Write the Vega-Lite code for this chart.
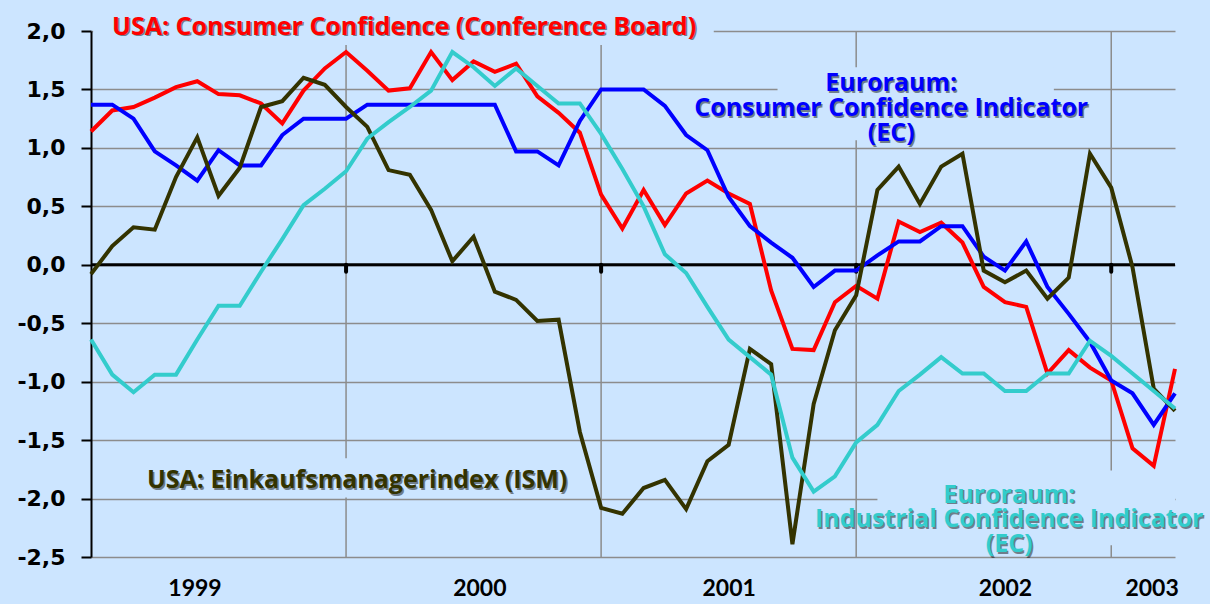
{
  "$schema": "https://vega.github.io/schema/vega-lite/v6.json",
  "width": 1084,
  "height": 526,
  "autosize": {"type": "none"},
  "padding": {"left": 91, "top": 31, "right": 35, "bottom": 47},
  "background": "#cce5ff",
  "config": {
    "view": {"stroke": null},
    "axis": {"labelColor": "#000000"}
  },
  "datasets": {
    "series": [
      {"m":0,"s":"USA CC","v":1.14},{"m":1,"s":"USA CC","v":1.32},{"m":2,"s":"USA CC","v":1.35},{"m":3,"s":"USA CC","v":1.43},{"m":4,"s":"USA CC","v":1.52},{"m":5,"s":"USA CC","v":1.57},{"m":6,"s":"USA CC","v":1.46},{"m":7,"s":"USA CC","v":1.45},{"m":8,"s":"USA CC","v":1.38},{"m":9,"s":"USA CC","v":1.21},{"m":10,"s":"USA CC","v":1.49},{"m":11,"s":"USA CC","v":1.68},{"m":12,"s":"USA CC","v":1.82},{"m":13,"s":"USA CC","v":1.66},{"m":14,"s":"USA CC","v":1.49},{"m":15,"s":"USA CC","v":1.51},{"m":16,"s":"USA CC","v":1.82},{"m":17,"s":"USA CC","v":1.58},{"m":18,"s":"USA CC","v":1.74},{"m":19,"s":"USA CC","v":1.65},{"m":20,"s":"USA CC","v":1.72},{"m":21,"s":"USA CC","v":1.44},{"m":22,"s":"USA CC","v":1.3},{"m":23,"s":"USA CC","v":1.13},{"m":24,"s":"USA CC","v":0.6},{"m":25,"s":"USA CC","v":0.31},{"m":26,"s":"USA CC","v":0.64},{"m":27,"s":"USA CC","v":0.34},{"m":28,"s":"USA CC","v":0.61},{"m":29,"s":"USA CC","v":0.72},{"m":30,"s":"USA CC","v":0.61},{"m":31,"s":"USA CC","v":0.52},{"m":32,"s":"USA CC","v":-0.22},{"m":33,"s":"USA CC","v":-0.72},{"m":34,"s":"USA CC","v":-0.73},{"m":35,"s":"USA CC","v":-0.32},{"m":36,"s":"USA CC","v":-0.18},{"m":37,"s":"USA CC","v":-0.29},{"m":38,"s":"USA CC","v":0.37},{"m":39,"s":"USA CC","v":0.28},{"m":40,"s":"USA CC","v":0.36},{"m":41,"s":"USA CC","v":0.19},{"m":42,"s":"USA CC","v":-0.19},{"m":43,"s":"USA CC","v":-0.32},{"m":44,"s":"USA CC","v":-0.36},{"m":45,"s":"USA CC","v":-0.93},{"m":46,"s":"USA CC","v":-0.73},{"m":47,"s":"USA CC","v":-0.88},{"m":48,"s":"USA CC","v":-0.99},{"m":49,"s":"USA CC","v":-1.57},{"m":50,"s":"USA CC","v":-1.72},{"m":51,"s":"USA CC","v":-0.89},
      {"m":0,"s":"EA CCI","v":1.37},{"m":1,"s":"EA CCI","v":1.37},{"m":2,"s":"EA CCI","v":1.25},{"m":3,"s":"EA CCI","v":0.97},{"m":4,"s":"EA CCI","v":0.85},{"m":5,"s":"EA CCI","v":0.72},{"m":6,"s":"EA CCI","v":0.98},{"m":7,"s":"EA CCI","v":0.85},{"m":8,"s":"EA CCI","v":0.85},{"m":9,"s":"EA CCI","v":1.11},{"m":10,"s":"EA CCI","v":1.25},{"m":11,"s":"EA CCI","v":1.25},{"m":12,"s":"EA CCI","v":1.25},{"m":13,"s":"EA CCI","v":1.37},{"m":14,"s":"EA CCI","v":1.37},{"m":15,"s":"EA CCI","v":1.37},{"m":16,"s":"EA CCI","v":1.37},{"m":17,"s":"EA CCI","v":1.37},{"m":18,"s":"EA CCI","v":1.37},{"m":19,"s":"EA CCI","v":1.37},{"m":20,"s":"EA CCI","v":0.97},{"m":21,"s":"EA CCI","v":0.97},{"m":22,"s":"EA CCI","v":0.85},{"m":23,"s":"EA CCI","v":1.23},{"m":24,"s":"EA CCI","v":1.5},{"m":25,"s":"EA CCI","v":1.5},{"m":26,"s":"EA CCI","v":1.5},{"m":27,"s":"EA CCI","v":1.36},{"m":28,"s":"EA CCI","v":1.11},{"m":29,"s":"EA CCI","v":0.98},{"m":30,"s":"EA CCI","v":0.58},{"m":31,"s":"EA CCI","v":0.33},{"m":32,"s":"EA CCI","v":0.19},{"m":33,"s":"EA CCI","v":0.06},{"m":34,"s":"EA CCI","v":-0.19},{"m":35,"s":"EA CCI","v":-0.05},{"m":36,"s":"EA CCI","v":-0.05},{"m":37,"s":"EA CCI","v":0.08},{"m":38,"s":"EA CCI","v":0.2},{"m":39,"s":"EA CCI","v":0.2},{"m":40,"s":"EA CCI","v":0.33},{"m":41,"s":"EA CCI","v":0.33},{"m":42,"s":"EA CCI","v":0.07},{"m":43,"s":"EA CCI","v":-0.05},{"m":44,"s":"EA CCI","v":0.2},{"m":45,"s":"EA CCI","v":-0.19},{"m":46,"s":"EA CCI","v":-0.42},{"m":47,"s":"EA CCI","v":-0.66},{"m":48,"s":"EA CCI","v":-0.99},{"m":49,"s":"EA CCI","v":-1.1},{"m":50,"s":"EA CCI","v":-1.37},{"m":51,"s":"EA CCI","v":-1.1},
      {"m":0,"s":"USA ISM","v":-0.08},{"m":1,"s":"USA ISM","v":0.16},{"m":2,"s":"USA ISM","v":0.32},{"m":3,"s":"USA ISM","v":0.3},{"m":4,"s":"USA ISM","v":0.75},{"m":5,"s":"USA ISM","v":1.09},{"m":6,"s":"USA ISM","v":0.59},{"m":7,"s":"USA ISM","v":0.83},{"m":8,"s":"USA ISM","v":1.35},{"m":9,"s":"USA ISM","v":1.4},{"m":10,"s":"USA ISM","v":1.6},{"m":11,"s":"USA ISM","v":1.54},{"m":12,"s":"USA ISM","v":1.35},{"m":13,"s":"USA ISM","v":1.18},{"m":14,"s":"USA ISM","v":0.81},{"m":15,"s":"USA ISM","v":0.77},{"m":16,"s":"USA ISM","v":0.47},{"m":17,"s":"USA ISM","v":0.03},{"m":18,"s":"USA ISM","v":0.24},{"m":19,"s":"USA ISM","v":-0.23},{"m":20,"s":"USA ISM","v":-0.3},{"m":21,"s":"USA ISM","v":-0.48},{"m":22,"s":"USA ISM","v":-0.47},{"m":23,"s":"USA ISM","v":-1.43},{"m":24,"s":"USA ISM","v":-2.08},{"m":25,"s":"USA ISM","v":-2.13},{"m":26,"s":"USA ISM","v":-1.91},{"m":27,"s":"USA ISM","v":-1.84},{"m":28,"s":"USA ISM","v":-2.09},{"m":29,"s":"USA ISM","v":-1.68},{"m":30,"s":"USA ISM","v":-1.54},{"m":31,"s":"USA ISM","v":-0.72},{"m":32,"s":"USA ISM","v":-0.85},{"m":33,"s":"USA ISM","v":-2.39},{"m":34,"s":"USA ISM","v":-1.19},{"m":35,"s":"USA ISM","v":-0.56},{"m":36,"s":"USA ISM","v":-0.26},{"m":37,"s":"USA ISM","v":0.64},{"m":38,"s":"USA ISM","v":0.84},{"m":39,"s":"USA ISM","v":0.52},{"m":40,"s":"USA ISM","v":0.84},{"m":41,"s":"USA ISM","v":0.95},{"m":42,"s":"USA ISM","v":-0.05},{"m":43,"s":"USA ISM","v":-0.15},{"m":44,"s":"USA ISM","v":-0.05},{"m":45,"s":"USA ISM","v":-0.29},{"m":46,"s":"USA ISM","v":-0.11},{"m":47,"s":"USA ISM","v":0.95},{"m":48,"s":"USA ISM","v":0.66},{"m":49,"s":"USA ISM","v":-0.02},{"m":50,"s":"USA ISM","v":-1.06},{"m":51,"s":"USA ISM","v":-1.25},
      {"m":0,"s":"EA ICI","v":-0.64},{"m":1,"s":"EA ICI","v":-0.94},{"m":2,"s":"EA ICI","v":-1.09},{"m":3,"s":"EA ICI","v":-0.94},{"m":4,"s":"EA ICI","v":-0.94},{"m":5,"s":"EA ICI","v":-0.64},{"m":6,"s":"EA ICI","v":-0.35},{"m":7,"s":"EA ICI","v":-0.35},{"m":8,"s":"EA ICI","v":-0.06},{"m":9,"s":"EA ICI","v":0.22},{"m":10,"s":"EA ICI","v":0.51},{"m":11,"s":"EA ICI","v":0.65},{"m":12,"s":"EA ICI","v":0.8},{"m":13,"s":"EA ICI","v":1.08},{"m":14,"s":"EA ICI","v":1.22},{"m":15,"s":"EA ICI","v":1.35},{"m":16,"s":"EA ICI","v":1.49},{"m":17,"s":"EA ICI","v":1.82},{"m":18,"s":"EA ICI","v":1.69},{"m":19,"s":"EA ICI","v":1.53},{"m":20,"s":"EA ICI","v":1.68},{"m":21,"s":"EA ICI","v":1.53},{"m":22,"s":"EA ICI","v":1.38},{"m":23,"s":"EA ICI","v":1.38},{"m":24,"s":"EA ICI","v":1.12},{"m":25,"s":"EA ICI","v":0.82},{"m":26,"s":"EA ICI","v":0.5},{"m":27,"s":"EA ICI","v":0.09},{"m":28,"s":"EA ICI","v":-0.07},{"m":29,"s":"EA ICI","v":-0.36},{"m":30,"s":"EA ICI","v":-0.64},{"m":31,"s":"EA ICI","v":-0.79},{"m":32,"s":"EA ICI","v":-0.94},{"m":33,"s":"EA ICI","v":-1.65},{"m":34,"s":"EA ICI","v":-1.94},{"m":35,"s":"EA ICI","v":-1.81},{"m":36,"s":"EA ICI","v":-1.52},{"m":37,"s":"EA ICI","v":-1.37},{"m":38,"s":"EA ICI","v":-1.08},{"m":39,"s":"EA ICI","v":-0.94},{"m":40,"s":"EA ICI","v":-0.79},{"m":41,"s":"EA ICI","v":-0.93},{"m":42,"s":"EA ICI","v":-0.93},{"m":43,"s":"EA ICI","v":-1.08},{"m":44,"s":"EA ICI","v":-1.08},{"m":45,"s":"EA ICI","v":-0.93},{"m":46,"s":"EA ICI","v":-0.93},{"m":47,"s":"EA ICI","v":-0.65},{"m":48,"s":"EA ICI","v":-0.78},{"m":49,"s":"EA ICI","v":-0.93},{"m":50,"s":"EA ICI","v":-1.08},{"m":51,"s":"EA ICI","v":-1.23}
    ],
    "years": [{"m":12},{"m":24},{"m":36},{"m":48}],
    "masks": [
      {"m1":0.1,"m2":29.3,"v1":1.88,"v2":2.12},
      {"m1":32.3,"m2":45.3,"v1":1.47,"v2":1.69},
      {"m1":28.3,"m2":47.3,"v1":1.065,"v2":1.47},
      {"m1":2.3,"m2":22.8,"v1":-1.99,"v2":-1.655},
      {"m1":37.0,"m2":51,"v1":-2.4,"v2":-1.76}
    ],
    "labels": [
      {"text":"USA: Consumer Confidence (Conference Board)","s":"USA CC","m":14.73,"v":1.97},
      {"text":"Euroraum:","s":"EA CCI","m":37.65,"v":1.484},
      {"text":"Consumer Confidence Indicator","s":"EA CCI","m":37.65,"v":1.27},
      {"text":"(EC)","s":"EA CCI","m":37.65,"v":1.056},
      {"text":"USA: Einkaufsmanagerindex (ISM)","s":"USA ISM","m":12.52,"v":-1.912},
      {"text":"Euroraum:","s":"EA ICI","m":43.2,"v":-2.038},
      {"text":"Industrial Confidence Indicator","s":"EA ICI","m":43.2,"v":-2.245},
      {"text":"(EC)","s":"EA ICI","m":43.2,"v":-2.459}
    ]
  },
  "layer": [
    {
      "data": {"name": "years"},
      "mark": {"type": "rule", "color": "#8c8c8c", "strokeWidth": 1.5},
      "encoding": {
        "x": {"field": "m", "type": "quantitative", "scale": {"domain": [0, 51], "nice": false, "zero": false},
          "axis": {"values": [4.87, 18.27, 30, 43, 49.9], "labelExpr": "datum.value < 10 ? '1999' : datum.value < 24 ? '2000' : datum.value < 36 ? '2001' : datum.value < 46 ? '2002' : '2003'",
            "domain": false, "ticks": false, "grid": false, "title": null, "labelFont": "Lato", "labelFontWeight": "bold", "labelFontSize": 23, "labelPadding": 38, "labelBaseline": "alphabetic", "labelColor": "#000000", "labelFlush": false, "labelOverlap": false}},
        "y": {"datum": -2.5, "type": "quantitative", "scale": {"domain": [-2.5, 2], "nice": false, "zero": false},
          "axis": {"values": [-2.5, -2, -1.5, -1, -0.5, 0, 0.5, 1, 1.5, 2], "labelExpr": "replace(replace(format(datum.value, '.1f'), '.', ','), '\u2212', '-')",
            "title": null, "grid": true, "gridColor": "#8c8c8c", "gridWidth": 1.5, "gridOpacity": 1, "domainColor": "#000000", "domainWidth": 2, "tickColor": "#000000", "tickWidth": 2, "tickSize": 10,
            "labelFont": "DejaVu Sans", "labelFontWeight": "bold", "labelFontSize": 22, "labelPadding": 16, "labelColor": "#000000"}},
        "y2": {"datum": 2}
      }
    },
    {
      "data": {"name": "masks"},
      "mark": {"type": "rect", "color": "#cce5ff"},
      "encoding": {
        "x": {"field": "m1", "type": "quantitative"},
        "x2": {"field": "m2"},
        "y": {"field": "v1", "type": "quantitative"},
        "y2": {"field": "v2"}
      }
    },
    {
      "data": {"name": "years"},
      "mark": {"type": "rule", "color": "#000000", "strokeWidth": 4, "strokeCap": "round"},
      "encoding": {
        "x": {"field": "m", "type": "quantitative"},
        "y": {"datum": 0, "type": "quantitative"},
        "y2": {"datum": -0.06}
      }
    },
    {
      "data": {"values": [{"a": 0}]},
      "mark": {"type": "rule", "color": "#000000", "strokeWidth": 3},
      "encoding": {
        "x": {"datum": 0, "type": "quantitative"},
        "x2": {"datum": 51},
        "y": {"datum": 0, "type": "quantitative"}
      }
    },
    {
      "data": {"name": "series"},
      "mark": {"type": "line", "strokeWidth": 4, "strokeJoin": "miter"},
      "encoding": {
        "x": {"field": "m", "type": "quantitative"},
        "y": {"field": "v", "type": "quantitative"},
        "color": {"field": "s", "type": "nominal", "legend": null,
          "scale": {"domain": ["USA CC", "EA CCI", "USA ISM", "EA ICI"], "range": ["#ff0000", "#0000ff", "#333300", "#33cccc"]}},
        "order": {"field": "m", "type": "quantitative"}
      }
    },
    {
      "data": {"name": "labels"},
      "mark": {"type": "text", "font": "Open Sans", "fontWeight": "bold", "fontSize": 25, "align": "center", "baseline": "alphabetic", "dx": 1.5, "dy": 1.5, "color": "#000000", "opacity": 0.45},
      "encoding": {
        "x": {"field": "m", "type": "quantitative"},
        "y": {"field": "v", "type": "quantitative"},
        "text": {"field": "text"}
      }
    },
    {
      "data": {"name": "labels"},
      "mark": {"type": "text", "font": "Open Sans", "fontWeight": "bold", "fontSize": 25, "align": "center", "baseline": "alphabetic"},
      "encoding": {
        "x": {"field": "m", "type": "quantitative"},
        "y": {"field": "v", "type": "quantitative"},
        "text": {"field": "text"},
        "color": {"field": "s", "type": "nominal", "legend": null}
      }
    }
  ]
}
